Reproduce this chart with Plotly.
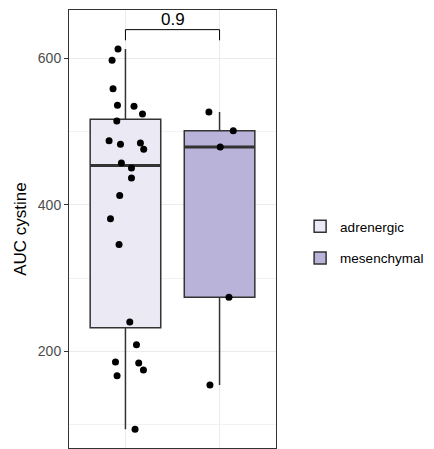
import numpy as np
import plotly.graph_objects as go

# ---- data ----
groups = ["adrenergic", "mesenchymal"]
adrenergic_auc = [612.7, 597.3, 558.6, 535.8, 534.5, 524.0, 514.4, 487.6, 482.6, 484.4,
                  475.8, 457.0, 450.3, 436.6, 412.6, 381.0, 345.7, 240.0, 209.1, 185.4,
                  184.0, 174.5, 166.8, 93.5]
adrenergic_jitter = [-0.079, -0.142, -0.132, -0.085, 0.091, 0.181, -0.092, -0.174, -0.053, 0.159,
                     0.194, -0.043, 0.064, 0.064, -0.061, -0.159, -0.068, 0.046, 0.117, -0.106,
                     0.141, 0.191, -0.089, 0.102]
mesenchymal_auc = [526.7, 501.3, 479.0, 273.7, 154.0]
mesenchymal_jitter = [-0.113, 0.146, 0.007, 0.100, -0.102]
p_value_label = "0.9"
y_ticks = [200, 400, 600]
y_title = "AUC cystine"

# ---- style ----
fills = ["#EAE9F4", "#B9B3D9"]
BOX_WIDTH = 0.75
FONT = "Liberation Sans, Arial, Helvetica, sans-serif"
DARK = "#333333"

values = [adrenergic_auc, mesenchymal_auc]
jitters = [adrenergic_jitter, mesenchymal_jitter]

fig = go.Figure()
for i, (g, vals, jit) in enumerate(zip(groups, values, jitters)):
    v = np.array(vals)
    q1, med, q3 = np.percentile(v, [25, 50, 75])
    iqr = q3 - q1
    lo = v[v >= q1 - 1.5 * iqr].min()
    hi = v[v <= q3 + 1.5 * iqr].max()
    fig.add_trace(go.Box(
        x=[i], q1=[q1], median=[med], q3=[q3], lowerfence=[lo], upperfence=[hi],
        width=BOX_WIDTH, fillcolor=fills[i], line=dict(color=DARK, width=1.5),
        whiskerwidth=0, name=g, legendgroup=g, boxpoints=False, hoverinfo="skip"))
    fig.add_trace(go.Scatter(
        x=[i - BOX_WIDTH / 2, i + BOX_WIDTH / 2], y=[med, med], mode="lines",
        line=dict(color=DARK, width=3), showlegend=False, hoverinfo="skip"))

for i, (vals, jit) in enumerate(zip(values, jitters)):
    fig.add_trace(go.Scatter(
        x=[i + j for j in jit], y=vals, mode="markers",
        marker=dict(color="black", size=7), showlegend=False))

# significance bracket
all_vals = np.concatenate([np.array(v) for v in values])
span = all_vals.max() - all_vals.min()
y_br = all_vals.max() + 0.051 * span
y_tip = y_br - 0.028 * span
fig.add_trace(go.Scatter(x=[0, 0, 1, 1], y=[y_tip, y_br, y_br, y_tip], mode="lines",
                         line=dict(color="black", width=1), showlegend=False, hoverinfo="skip"))
fig.add_annotation(x=0.5, y=y_br, text=p_value_label, showarrow=False, yanchor="bottom",
                   yshift=-1, font=dict(size=17, color="black", family=FONT))

fig.update_layout(
    width=426, height=441,
    margin=dict(l=61, r=158, t=2, b=1, autoexpand=False),
    paper_bgcolor="white", plot_bgcolor="white",
    font=dict(family=FONT, color="black"),
    showlegend=True,
    legend=dict(x=1.1165, y=0.469, xanchor="left", yanchor="middle",
                font=dict(size=13.5, color="black", family=FONT),
                tracegroupgap=11, itemwidth=30),
)
fig.update_xaxes(range=[-0.6, 1.6], tickvals=[0, 1], showticklabels=False, ticks="",
                 showgrid=True, gridcolor="#EBEBEB", gridwidth=1,
                 showline=True, mirror=True, linecolor=DARK, linewidth=1, zeroline=False,
                 automargin=False)
fig.update_yaxes(range=[68, 666], tickvals=y_ticks, ticks="outside", ticklen=4,
                 tickcolor=DARK, tickfont=dict(size=14, color="#4D4D4D", family=FONT),
                 title=dict(text=y_title, font=dict(size=17, color="black", family=FONT), standoff=6),
                 showgrid=True, gridcolor="#EBEBEB", gridwidth=1.2,
                 minor=dict(tickvals=[100, 300, 500], showgrid=True, gridcolor="#F2F2F2", gridwidth=0.7),
                 showline=True, mirror=True, linecolor=DARK, linewidth=1, zeroline=False,
                 automargin=False)

fig.write_html("out.html")
